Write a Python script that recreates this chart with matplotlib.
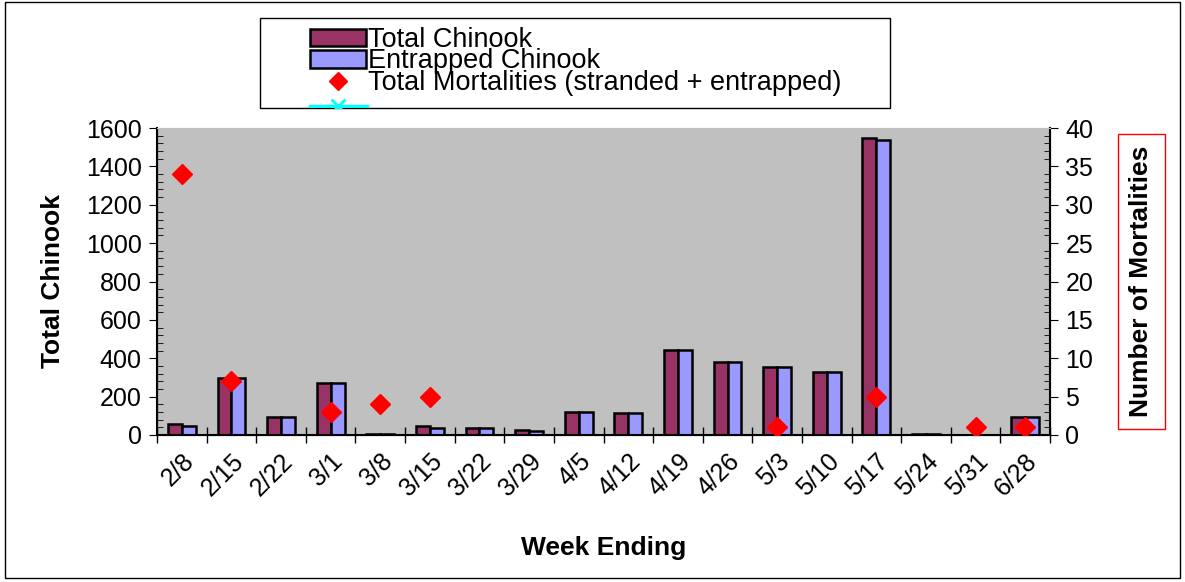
import numpy as np
import matplotlib
matplotlib.use("Agg")
import matplotlib.pyplot as plt
from matplotlib.patches import Rectangle
from matplotlib.lines import Line2D
from matplotlib.ticker import MultipleLocator

plt.rcParams['font.family'] = ['Liberation Sans', 'DejaVu Sans']

weeks = ['2/8', '2/15', '2/22', '3/1', '3/8', '3/15', '3/22', '3/29', '4/5',
         '4/12', '4/19', '4/26', '5/3', '5/10', '5/17', '5/24', '5/31', '6/28']
total_chinook = [55, 295, 92, 270, 6, 45, 38, 25, 120,
                 115, 445, 380, 357, 330, 1548, 3, 0, 92]
entrapped_chinook = [45, 295, 92, 270, 6, 35, 35, 22, 120,
                     113, 445, 380, 352, 330, 1540, 3, 0, 92]
mort_weeks = ['2/8', '2/15', '3/1', '3/8', '3/15', '5/3', '5/17', '5/31', '6/28']
mortalities = [34, 7, 3, 4, 5, 1, 5, 1, 1]

fig = plt.figure(figsize=(11.85, 5.82), dpi=100)
ax = fig.add_axes([157/1185, 1-435/582, (1050-157)/1185, (435-128)/582])
ax.set_facecolor('#C0C0C0')

x = np.arange(len(weeks))
w = 0.28
ax.bar(x - w/2, total_chinook, w, color='#993366', edgecolor='black', linewidth=1.8, zorder=2)
ax.bar(x + w/2, entrapped_chinook, w, color='#9999FF', edgecolor='black', linewidth=1.8, zorder=2)
ax.set_xlim(-0.5, len(weeks) - 0.5)
ax.set_ylim(0, 1600)
ax.yaxis.set_major_locator(MultipleLocator(200))
ax.yaxis.set_minor_locator(MultipleLocator(40))
ax.tick_params(axis='y', which='major', direction='out', length=6, labelsize=18, pad=5)
ax.tick_params(axis='y', which='minor', direction='in', length=4)
ax.set_xticks(x)
ax.set_xticklabels(weeks, rotation=45, ha='right', rotation_mode='anchor', fontsize=18)
ax.tick_params(axis='x', which='major', length=0, pad=10)
ax.set_xticks(np.arange(len(weeks) + 1) - 0.5, minor=True)
ax.tick_params(axis='x', which='minor', direction='inout', length=12, width=1)
for s in ['left', 'bottom']:
    ax.spines[s].set_linewidth(1.5)
ax.spines['top'].set_color('#C0C0C0')
ax.set_ylabel('Total Chinook', fontsize=19, fontweight='bold', labelpad=15)
ax.set_xlabel('Week Ending', fontsize=19, fontweight='bold', labelpad=26)

ax2 = ax.twinx()
mx = [weeks.index(wk) for wk in mort_weeks]
ax2.plot(mx, mortalities, linestyle='none', marker='D', markersize=10.5,
         color='#FF0000', zorder=5)
ax2.set_ylim(0, 40)
ax2.yaxis.set_major_locator(MultipleLocator(5))
ax2.yaxis.set_minor_locator(MultipleLocator(1))
ax2.tick_params(axis='y', which='major', direction='out', length=6, labelsize=18, pad=5)
ax2.tick_params(axis='y', which='minor', direction='in', length=4)
ax2.spines['right'].set_linewidth(1.5)
ax2.spines['top'].set_color('#C0C0C0')
ax2.set_ylabel('Number of Mortalities', fontsize=19, fontweight='bold', labelpad=26,
               bbox=dict(boxstyle='square,pad=0.45', facecolor='white', edgecolor='red', linewidth=1))

# legend
handles = [
    Rectangle((0, 0), 1, 1, facecolor='#993366', edgecolor='black', linewidth=1.8),
    Rectangle((0, 0), 1, 1, facecolor='#9999FF', edgecolor='black', linewidth=1.8),
    Line2D([], [], linestyle='none', marker='D', markersize=9, color='#FF0000'),
]
labels = ['Total Chinook', 'Entrapped Chinook', 'Total Mortalities (stranded + entrapped)']
fig.legend(handles, labels, loc='upper left', bbox_to_anchor=(310/1185, 1-27/582),
           frameon=False, fontsize=19.5, labelspacing=-0.17, handlelength=2.05,
           handleheight=0.62, handletextpad=0.1, borderpad=0, borderaxespad=0)
leg_box = Rectangle((260/1185, 1-108/582), 630/1185, 90/582, transform=fig.transFigure,
                    fill=False, edgecolor='black', linewidth=1)
fig.patches.append(leg_box)
cyan_line = Line2D([310/1185, 367/1185], [1-106/582, 1-106/582], transform=fig.transFigure,
                   color='#00FFFF', linewidth=2.5)
cyan_mark = Line2D([338/1185], [1-106/582], transform=fig.transFigure, color='#00FFFF',
                   marker='x', markersize=10, markeredgewidth=2, linestyle='none')
for ln in (cyan_line, cyan_mark):
    ln.set_clip_path(leg_box)
    fig.lines.append(ln)

# outer frame
fig.patches.append(Rectangle((5/1185, 4/582), 1175/1185, 576/582, transform=fig.transFigure,
                             fill=False, edgecolor='black', linewidth=1))

fig.savefig('out.png', dpi=100)
